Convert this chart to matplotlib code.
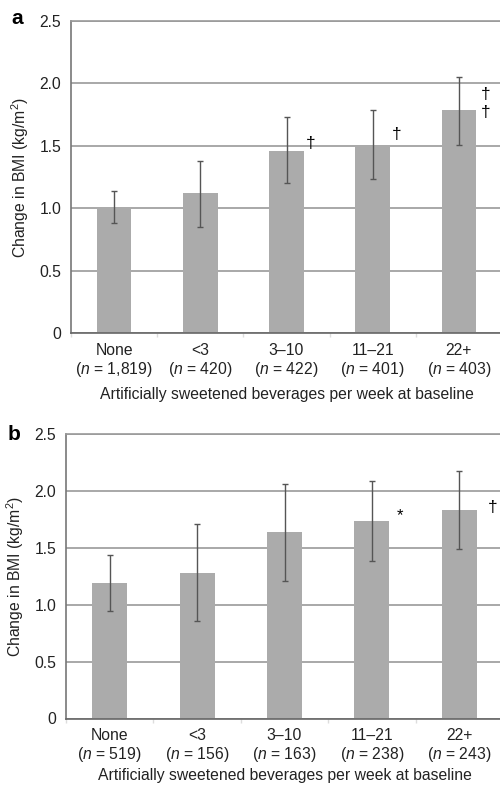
import matplotlib
matplotlib.use("Agg")
import matplotlib.pyplot as plt
import numpy as np

plt.rcParams['font.family'] = ['Liberation Sans', 'DejaVu Sans']
plt.rcParams['mathtext.fontset'] = 'custom'
plt.rcParams['mathtext.rm'] = 'Liberation Sans'
plt.rcParams['mathtext.it'] = 'Liberation Sans:italic'
plt.rcParams['mathtext.bf'] = 'Liberation Sans:bold'

categories = ["None", "<3", "3\u201310", "11\u201321", "22+"]
n_a = ["1,819", "420", "422", "401", "403"]
n_b = ["519", "156", "163", "238", "243"]

mean_a = [1.01, 1.12, 1.46, 1.50, 1.785]
low_a = [0.88, 0.85, 1.20, 1.23, 1.51]
high_a = [1.14, 1.38, 1.73, 1.79, 2.055]

mean_b = [1.19, 1.28, 1.64, 1.735, 1.83]
low_b = [0.945, 0.855, 1.21, 1.385, 1.49]
high_b = [1.435, 1.71, 2.06, 2.09, 2.175]

# significance markers: (category index, x offset, y value, symbol)
marks_a = [(2, 0.28, 1.52, "\u2020"), (3, 0.28, 1.59, "\u2020"),
           (4, 0.31, 1.91, "\u2020"), (4, 0.31, 1.77, "\u2020")]
marks_b = [(3, 0.32, 1.78, "*"), (4, 0.38, 1.85, "\u2020")]

yticks = [0, 0.5, 1.0, 1.5, 2.0, 2.5]
yticklabels = ["0", "0.5", "1.0", "1.5", "2.0", "2.5"]
xlabel = "Artificially sweetened beverages per week at baseline"
ylabel = "Change in BMI (kg/m$^2$)"

W, H = 500, 785
fig = plt.figure(figsize=(W / 100, H / 100), dpi=100)

def px_axes(left, right, top, bottom):
    return fig.add_axes([left / W, 1 - bottom / H, (right - left) / W, (bottom - top) / H])

ax_a = px_axes(71, 502, 21, 333)
ax_b = px_axes(66, 503, 434, 718.5)

bar_color = "#ababab"
grid_color = "#9a9a9a"
err_color = "#555555"
text_color = "#222222"
fs = 11.3

def draw(ax, mean, low, high, ns, marks, letter, letter_xy, xlabelpad):
    x = np.arange(len(categories))
    mean = np.array(mean)
    yerr = [mean - np.array(low), np.array(high) - mean]
    ax.set_axisbelow(True)
    ax.yaxis.grid(True, color=grid_color, linewidth=1.2)
    ax.bar(x, mean, width=0.40, color=bar_color, zorder=2)
    ax.errorbar(x, mean, yerr=yerr, fmt='none', ecolor=err_color,
                elinewidth=1.0, capsize=2.5, capthick=1.0, zorder=3)
    for (i, dx, y, s) in marks:
        ax.text(i + dx, y, s, ha='center', va='center',
                fontsize=(12.5 if s != "*" else 12), color='black', zorder=4)
    ax.set_xlim(-0.5, len(categories) - 0.5)
    ax.set_ylim(0, 2.5)
    ax.set_yticks(yticks)
    ax.set_yticklabels(yticklabels, fontsize=fs, color=text_color)
    ax.set_xticks(x)
    ax.set_xticklabels([f"{c}\n($\\it{{n}}$ = {n})" for c, n in zip(categories, ns)],
                       fontsize=fs, color=text_color, linespacing=1.15)
    ax.set_xticks(np.arange(-0.5, len(categories), 1.0), minor=True)
    ax.tick_params(axis='x', which='major', length=0, pad=7)
    ax.tick_params(axis='x', which='minor', length=3, color='#dddddd', width=1)
    ax.tick_params(axis='y', length=0, pad=7)
    ax.spines['right'].set_visible(False)
    ax.spines['top'].set_color(grid_color)
    ax.spines['top'].set_linewidth(1.2)
    ax.spines['left'].set_color('#777777')
    ax.spines['bottom'].set_color('#666666')
    ax.spines['left'].set_linewidth(1.2)
    ax.spines['bottom'].set_linewidth(1.2)
    ax.set_xlabel(xlabel, fontsize=fs, color=text_color, labelpad=xlabelpad)
    ax.set_ylabel(ylabel, fontsize=fs, color=text_color, labelpad=6)
    fig.text(letter_xy[0] / W, 1 - letter_xy[1] / H, letter, fontsize=15,
             fontweight='bold', ha='center', va='center')

draw(ax_a, mean_a, low_a, high_a, n_a, marks_a, "a", (17, 19), 6)
draw(ax_b, mean_b, low_b, high_b, n_b, marks_b, "b", (14, 435), 3)

fig.savefig("out.png", dpi=100)
